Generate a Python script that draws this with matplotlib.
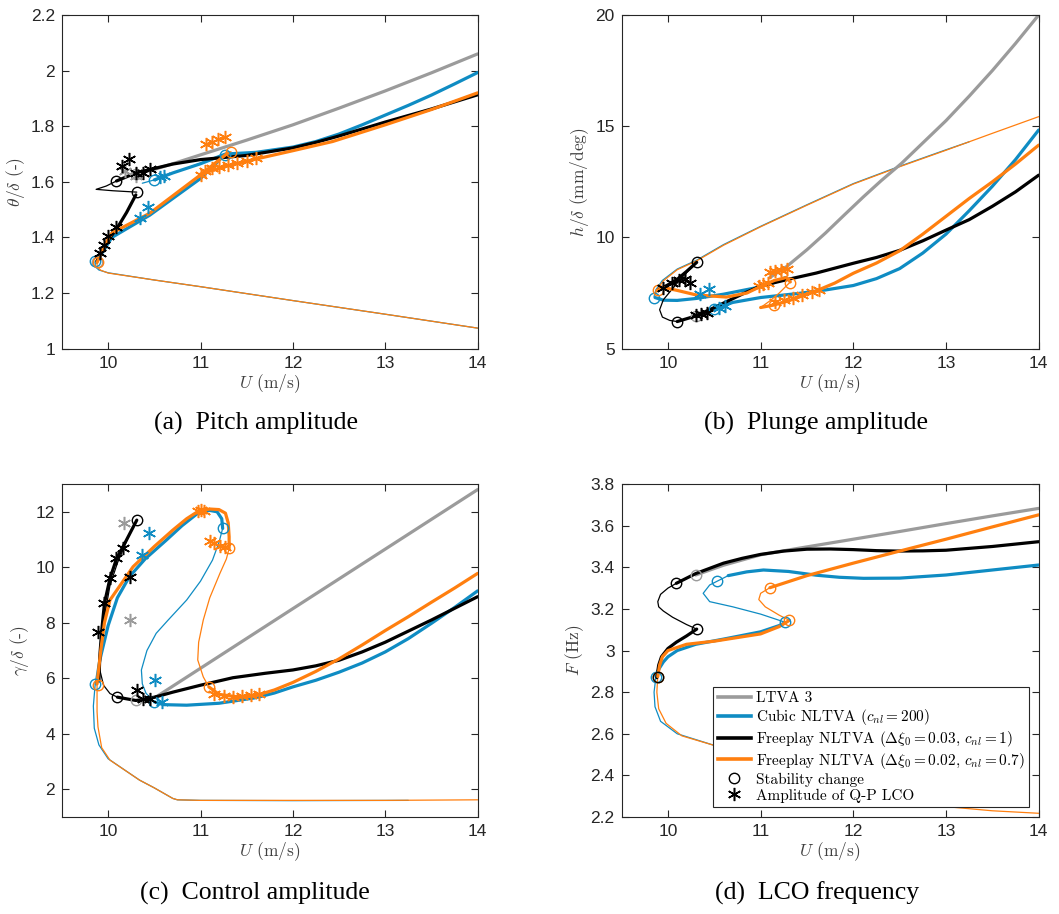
import matplotlib
matplotlib.use('Agg')
import matplotlib.pyplot as plt
from matplotlib.lines import Line2D
from matplotlib.ticker import FuncFormatter

plt.rcParams['mathtext.fontset'] = 'cm'
plt.rcParams['font.family'] = ['Liberation Sans', 'DejaVu Sans']
plt.rcParams['axes.unicode_minus'] = False

GRAY = '#9b9b9b'
BLUE = '#0f8cc3'
BLACK = '#000000'
ORANGE = '#ff7f0f'

U_TICKS = [10, 11, 12, 13, 14]
LEGEND_LABELS = ['LTVA 3', r'Cubic NLTVA ($c_{nl}=200$)',
                 r'Freeplay NLTVA ($\Delta\xi_0=0.03$, $c_{nl}=1$)',
                 r'Freeplay NLTVA ($\Delta\xi_0=0.02$, $c_{nl}=0.7$)',
                 'Stability change', 'Amplitude of Q-P LCO']
CAPTIONS = ['(a)  Pitch amplitude', '(b)  Plunge amplitude',
            '(c)  Control amplitude', '(d)  LCO frequency']

# ---------------- (a) pitch amplitude ----------------
A_LOW_ORANGE = [[(9.88, 1.31), (9.88, 1.295), (9.92, 1.282), (10.0, 1.272), (10.5, 1.247),
                 (11.0, 1.223), (12.0, 1.173), (13.0, 1.124), (14.0, 1.074)]]
A_LOW_BLUE = [[(9.86, 1.315), (9.86, 1.295), (9.9, 1.283), (10.0, 1.273), (10.5, 1.247),
               (11.0, 1.223), (12.0, 1.173), (13.0, 1.124), (14.0, 1.074)]]
A_GRAY_THICK = [[(10.3, 1.627), (10.5, 1.645), (10.7, 1.665), (11.0, 1.697), (11.5, 1.75),
                 (12.0, 1.805), (12.5, 1.865), (13.0, 1.927), (13.5, 1.992), (14.0, 2.06)]]
A_GRAY_CIRC = [(10.3, 1.627), (9.88, 1.31)]
A_GRAY_STAR = [(10.18, 1.64), (10.3, 1.62)]
A_BLACK_THICK = [[(10.09, 1.603), (10.3, 1.632), (10.5, 1.648), (10.7, 1.664), (11.0, 1.68),
                  (11.5, 1.695), (12.0, 1.722), (12.25, 1.742), (12.5, 1.765), (12.75, 1.79),
                  (13.0, 1.815), (13.5, 1.862), (14.0, 1.913)],
                 [(9.88, 1.315), (9.93, 1.35), (10.0, 1.39), (10.1, 1.435), (10.2, 1.49),
                  (10.3, 1.553)]]
A_BLACK_THIN = [[(10.09, 1.603), (9.98, 1.585), (9.87, 1.573), (10.05, 1.568), (10.31, 1.563)]]
A_BLACK_CIRC = [(10.09, 1.603), (10.31, 1.563)]
A_BLACK_STAR = [(9.91, 1.345), (9.95, 1.372), (10.0, 1.405), (10.08, 1.439), (10.155, 1.658),
                (10.23, 1.681), (10.3, 1.631), (10.38, 1.633), (10.45, 1.645)]
A_BLUE_THICK = [[(9.87, 1.31), (9.95, 1.352), (10.04, 1.40), (10.45, 1.48), (11.0, 1.612),
                 (11.26, 1.697)],
                [(10.5, 1.607), (10.7, 1.632), (11.0, 1.665), (11.27, 1.70), (11.6, 1.706),
                 (12.0, 1.725), (12.25, 1.745), (12.5, 1.772), (12.75, 1.805), (13.0, 1.84),
                 (13.25, 1.875), (13.5, 1.912), (13.75, 1.952), (14.0, 1.993)]]
A_BLUE_THIN = [[(10.37, 1.595), (10.5, 1.607)], [(11.27, 1.70), (11.1, 1.68), (10.9, 1.655)]]
A_BLUE_CIRC = [(9.86, 1.315), (10.5, 1.607), (11.26, 1.697)]
A_BLUE_STAR = [(10.35, 1.469), (10.43, 1.509), (10.56, 1.619), (10.6, 1.62)]
A_ORANGE_THICK = [[(9.88, 1.31), (9.96, 1.37), (10.04, 1.416), (10.45, 1.487), (11.0, 1.625),
                   (11.15, 1.665), (11.3, 1.705)],
                  [(11.0, 1.628), (11.3, 1.658), (11.6, 1.682), (12.0, 1.712), (12.43, 1.745),
                   (13.0, 1.805), (13.5, 1.86), (14.0, 1.92)]]
A_ORANGE_THIN = [[(11.33, 1.709), (11.15, 1.665), (11.0, 1.628)]]
A_ORANGE_CIRC = [(9.89, 1.31), (11.33, 1.709)]
A_ORANGE_STAR = [(11.06, 1.737), (11.12, 1.745), (11.19, 1.753), (11.27, 1.762), (11.0, 1.625),
                 (11.05, 1.638), (11.12, 1.648), (11.2, 1.655), (11.3, 1.66), (11.4, 1.668),
                 (11.5, 1.675), (11.6, 1.685)]

# ---------------- (b) plunge amplitude ----------------
B_UP_ORANGE = [[(9.86, 7.4), (9.88, 7.65), (9.95, 8.05), (10.1, 8.55), (10.31, 8.95), (10.6, 9.65),
                (11.0, 10.48), (11.5, 11.45), (12.0, 12.4), (12.5, 13.18), (13.0, 13.92),
                (13.5, 14.68), (14.0, 15.43)]]
B_UP_BLUE = [[(9.85, 7.35), (9.87, 7.65), (9.94, 8.07), (10.1, 8.58), (10.31, 8.98), (10.6, 9.68),
              (11.0, 10.5), (11.5, 11.47), (12.0, 12.42), (12.5, 13.2), (13.0, 13.94),
              (13.25, 14.3)]]
B_GRAY_THICK = [[(11.1, 8.2), (11.28, 8.69), (11.5, 9.45), (11.7, 10.2), (11.9, 11.0),
                 (12.11, 11.83), (12.3, 12.55), (12.52, 13.33), (12.75, 14.25), (13.0, 15.25),
                 (13.25, 16.35), (13.5, 17.5), (13.75, 18.72), (14.0, 20.0)]]
B_GRAY_CIRC = [(10.3, 6.45)]
B_BLACK_THICK = [[(9.9, 7.65), (10.0, 7.87), (10.1, 8.12), (10.2, 8.47), (10.31, 8.88)],
                 [(10.1, 6.22), (10.3, 6.47), (10.5, 6.85), (10.8, 7.45), (11.0, 7.82),
                  (11.3, 8.12), (11.6, 8.4), (12.0, 8.84), (12.25, 9.1), (12.5, 9.42),
                  (12.75, 9.85), (13.0, 10.33), (13.25, 10.8), (13.5, 11.4), (13.75, 12.05),
                  (14.0, 12.8)]]
B_BLACK_THIN = [[(10.31, 8.88), (10.15, 8.2), (10.02, 7.55), (9.95, 7.2), (9.91, 6.75),
                 (9.94, 6.42), (10.02, 6.27), (10.1, 6.22)]]
B_BLACK_CIRC = [(10.31, 8.88), (10.1, 6.22)]
B_BLACK_STAR = [(9.95, 7.75), (10.04, 7.95), (10.12, 8.1), (10.18, 8.15), (10.24, 7.95),
                (10.3, 6.5), (10.36, 6.55), (10.42, 6.62)]
B_BLUE_THICK = [[(9.86, 7.3), (9.95, 7.18), (10.1, 7.17), (10.31, 7.26), (10.6, 7.45),
                 (11.0, 7.78), (11.15, 7.98), (11.27, 8.2)],
                [(10.5, 6.8), (10.7, 7.08), (11.0, 7.3), (11.4, 7.48), (11.7, 7.64),
                 (12.0, 7.84), (12.25, 8.15), (12.5, 8.6), (12.75, 9.3), (13.0, 10.15),
                 (13.25, 11.2), (13.5, 12.3), (13.75, 13.5), (14.0, 14.83)]]
B_BLUE_THIN = [[(11.27, 8.2), (11.2, 8.05), (11.05, 7.92)],
               [(10.5, 6.8), (10.42, 6.65), (10.35, 6.58)]]
B_BLUE_CIRC = [(9.85, 7.3), (10.5, 6.78)]
B_BLUE_STAR = [(10.35, 7.45), (10.44, 7.7), (10.55, 6.85), (10.62, 6.92)]
B_ORANGE_THICK = [[(9.88, 7.6), (9.95, 7.75), (10.1, 7.62), (10.3, 7.42), (10.63, 7.32),
                   (10.85, 7.5), (11.0, 7.8), (11.15, 8.07), (11.28, 8.2), (11.32, 8.0)],
                  [(11.0, 6.85), (11.14, 6.96), (11.3, 7.15), (11.6, 7.6), (11.8, 7.95),
                   (12.0, 8.39), (12.25, 8.85), (12.5, 9.4), (12.75, 10.15), (13.0, 10.95),
                   (13.25, 11.75), (13.5, 12.5), (13.75, 13.3), (14.0, 14.15)]]
B_ORANGE_THIN = [[(11.32, 8.0), (11.2, 7.5), (11.1, 7.15), (11.0, 6.85)]]
B_ORANGE_CIRC = [(9.89, 7.62), (11.32, 7.95), (11.14, 6.96)]
B_ORANGE_STAR = [(11.1, 8.45), (11.16, 8.5), (11.22, 8.55), (11.28, 8.6), (10.98, 7.8),
                 (11.03, 7.9), (11.08, 7.95), (11.15, 7.1), (11.25, 7.2), (11.35, 7.3),
                 (11.45, 7.4), (11.55, 7.55), (11.63, 7.65)]

# ---------------- (c) control amplitude ----------------
C_LOW_ORANGE = [[(9.88, 5.8), (9.88, 4.8), (9.89, 4.25), (9.93, 3.5), (10.02, 3.05),
                 (10.34, 2.33), (10.5, 2.05), (10.7, 1.67), (10.75, 1.62), (11.0, 1.6),
                 (12.0, 1.6), (13.0, 1.6), (14.0, 1.62)]]
C_LOW_BLUE = [[(9.86, 5.8), (9.84, 5.0), (9.85, 4.2), (9.9, 3.6), (10.0, 3.1), (10.34, 2.33),
               (10.5, 2.05), (10.7, 1.67), (10.75, 1.62), (11.0, 1.6), (12.0, 1.59),
               (13.25, 1.6)]]
C_GRAY_THICK = [[(10.45, 5.3), (10.52, 5.33), (12.0, 8.51), (13.0, 10.655), (14.0, 12.8)]]
C_GRAY_CIRC = [(10.3, 5.2)]
C_GRAY_STAR = [(10.17, 11.6), (10.24, 8.1)]
C_BLACK_THICK = [[(9.9, 5.9), (9.91, 6.8), (9.93, 7.7), (9.96, 8.7), (10.02, 9.6), (10.09, 10.3),
                  (10.17, 10.8), (10.31, 11.7)],
                 [(10.1, 5.32), (10.3, 5.2), (10.45, 5.27), (10.7, 5.5), (11.0, 5.75),
                  (11.35, 6.02), (11.7, 6.18), (12.0, 6.3), (12.25, 6.45), (12.5, 6.65),
                  (12.75, 6.95), (13.0, 7.3), (13.25, 7.7), (13.5, 8.1), (13.75, 8.52),
                  (14.0, 8.94)]]
C_BLACK_THIN = [[(10.31, 11.7), (10.2, 10.95), (10.1, 10.15), (10.02, 9.35), (9.97, 8.4),
                 (9.93, 7.3), (9.91, 6.3), (9.95, 5.75), (10.02, 5.45), (10.1, 5.32)]]
C_BLACK_CIRC = [(10.31, 11.7), (10.1, 5.32)]
C_BLACK_STAR = [(9.89, 7.68), (9.95, 8.7), (10.02, 9.6), (10.09, 10.32), (10.16, 10.68),
                (10.24, 9.66), (10.31, 5.57), (10.38, 5.24), (10.45, 5.26)]
C_BLUE_THICK = [[(9.87, 5.8), (9.91, 6.66), (10.0, 7.9), (10.1, 8.9), (10.23, 9.66), (10.4, 10.3),
                 (10.63, 10.98), (10.8, 11.5), (10.99, 12.0), (11.1, 12.05), (11.18, 12.0),
                 (11.23, 11.75), (11.24, 11.4)],
                [(10.5, 5.15), (10.6, 5.05), (10.85, 5.03), (11.2, 5.1), (11.6, 5.3),
                 (11.8, 5.47), (12.0, 5.69), (12.25, 5.93), (12.5, 6.22), (12.75, 6.55),
                 (13.0, 6.95), (13.25, 7.43), (13.5, 7.98), (13.75, 8.55), (14.0, 9.15)]]
C_BLUE_THIN = [[(11.24, 11.4), (11.2, 10.9), (11.13, 10.26), (11.0, 9.5), (10.85, 8.82),
                (10.65, 8.1), (10.52, 7.62), (10.42, 7.0), (10.36, 6.3), (10.37, 5.8),
                (10.41, 5.46), (10.5, 5.15)]]
C_BLUE_CIRC = [(9.86, 5.8), (11.24, 11.4), (10.5, 5.15)]
C_BLUE_STAR = [(10.44, 11.22), (10.37, 10.45), (10.51, 5.95), (10.58, 5.15)]
C_ORANGE_THICK = [[(9.88, 5.8), (9.92, 7.0), (9.96, 8.0), (10.02, 8.82), (10.27, 10.02),
                   (10.5, 10.75), (10.7, 11.34), (10.85, 11.75), (10.99, 12.05), (11.1, 12.1),
                   (11.2, 12.08), (11.27, 11.95), (11.3, 11.6), (11.31, 11.1), (11.31, 10.68)],
                  [(11.09, 5.69), (11.2, 5.42), (11.4, 5.33), (11.6, 5.38), (11.8, 5.58),
                   (12.0, 5.85), (12.25, 6.25), (12.5, 6.7), (12.75, 7.2), (13.0, 7.72),
                   (13.25, 8.22), (13.5, 8.74), (13.75, 9.25), (14.0, 9.78)]]
C_ORANGE_THIN = [[(11.31, 10.68), (11.28, 10.3), (11.21, 9.78), (11.1, 8.9), (11.03, 8.1),
                  (10.98, 7.3), (10.97, 6.66), (11.03, 6.05), (11.09, 5.69)]]
C_ORANGE_CIRC = [(9.89, 5.75), (11.31, 10.68), (11.09, 5.69)]
C_ORANGE_STAR = [(10.97, 12.02), (11.0, 12.06), (11.04, 12.04), (11.1, 10.95), (11.15, 10.87),
                 (11.21, 10.78), (11.27, 10.72), (11.15, 5.45), (11.25, 5.36), (11.35, 5.34),
                 (11.45, 5.35), (11.55, 5.38), (11.63, 5.42)]

# ---------------- (d) LCO frequency ----------------
D_LOW_ORANGE = [[(9.89, 2.875), (9.88, 2.8), (9.9, 2.72), (9.98, 2.65), (10.15, 2.59),
                 (10.53, 2.54), (11.0, 2.47), (11.5, 2.41), (12.0, 2.35), (12.5, 2.29),
                 (13.0, 2.25), (13.5, 2.23), (14.0, 2.218)]]
D_LOW_BLUE = [[(9.87, 2.875), (9.85, 2.8), (9.86, 2.73), (9.92, 2.66), (10.1, 2.6),
               (10.53, 2.54), (11.0, 2.47)]]
D_GRAY_THICK = [[(10.3, 3.363), (10.6, 3.41), (11.0, 3.46), (11.39, 3.49), (12.0, 3.535),
                 (12.5, 3.572), (13.0, 3.61), (13.5, 3.647), (14.0, 3.683)]]
D_GRAY_CIRC = [(10.3, 3.363)]
D_BLACK_THICK = [[(9.88, 2.87), (9.9, 2.93), (9.93, 2.97), (10.0, 3.01), (10.09, 3.04),
                  (10.2, 3.07), (10.31, 3.103)],
                 [(10.09, 3.323), (10.3, 3.37), (10.45, 3.395), (10.6, 3.42), (10.8, 3.443),
                  (11.0, 3.462), (11.25, 3.478), (11.5, 3.487), (11.75, 3.488), (12.0, 3.485),
                  (12.25, 3.48), (12.47, 3.478), (12.75, 3.479), (13.0, 3.482), (13.5, 3.5),
                  (14.0, 3.523)]]
D_BLACK_THIN = [[(10.31, 3.103), (10.2, 3.125), (10.05, 3.16), (9.95, 3.19), (9.9, 3.21),
                 (9.89, 3.235), (9.92, 3.27), (10.0, 3.3), (10.09, 3.323)]]
D_BLACK_CIRC = [(10.09, 3.323), (10.31, 3.103), (9.89, 2.875)]
D_BLUE_THICK = [[(9.87, 2.875), (9.9, 2.91), (9.95, 2.945), (10.0, 2.97), (10.1, 3.0),
                 (10.3, 3.03), (10.6, 3.055), (11.0, 3.09), (11.2, 3.12), (11.27, 3.135)],
                [(10.65, 3.36), (10.85, 3.378), (11.03, 3.387), (11.3, 3.38), (11.6, 3.362),
                 (11.85, 3.352), (12.11, 3.347), (12.5, 3.348), (13.0, 3.363), (13.5, 3.387),
                 (14.0, 3.411)]]
D_BLUE_THIN = [[(11.27, 3.135), (11.0, 3.175), (10.7, 3.21), (10.45, 3.235), (10.38, 3.275),
                (10.45, 3.315), (10.53, 3.333), (10.65, 3.36)]]
D_BLUE_CIRC = [(9.87, 2.875), (11.26, 3.135), (10.53, 3.333)]
D_ORANGE_THICK = [[(9.89, 2.875), (9.91, 2.93), (9.94, 2.97), (10.0, 3.0), (10.2, 3.03),
                   (10.5, 3.045), (11.0, 3.08), (11.2, 3.115), (11.31, 3.145)],
                  [(11.1, 3.302), (11.5, 3.36), (12.0, 3.42), (12.5, 3.478), (13.0, 3.535),
                   (13.5, 3.594), (14.0, 3.652)]]
D_ORANGE_THIN = [[(11.31, 3.145), (11.2, 3.17), (11.05, 3.21), (10.98, 3.245), (11.0, 3.275),
                  (11.1, 3.302)]]
D_ORANGE_CIRC = [(9.89, 2.875), (11.31, 3.145), (11.1, 3.302)]

THICK = 2.3
THIN = 0.9
STAR = (6, 2, 0)


def lines(ax, segs, color, lw, z):
    for pts in segs:
        u = [p[0] for p in pts]
        v = [p[1] for p in pts]
        ax.plot(u, v, color=color, lw=lw, zorder=z, solid_capstyle='round',
                solid_joinstyle='round')


def marks(ax, pts, color, kind, z=8):
    if not pts:
        return
    u = [p[0] for p in pts]
    v = [p[1] for p in pts]
    if kind == 'o':
        ax.plot(u, v, ls='none', marker='o', ms=7.5, mfc='none', mec=color, mew=1.0, zorder=z)
    else:
        ax.plot(u, v, ls='none', marker=STAR, ms=9.5, mec=color, mew=1.1, zorder=z)


def style(ax, ylim, yticks, ylabel):
    ax.set_xlim(9.5, 14)
    ax.set_ylim(*ylim)
    ax.set_xticks(U_TICKS)
    ax.set_yticks(yticks)
    ax.yaxis.set_major_formatter(FuncFormatter(lambda v, p: '%g' % round(v, 3)))
    ax.tick_params(direction='in', top=True, right=True, length=5, width=0.8,
                   colors='#262626', labelsize=12.5, pad=5)
    for s in ax.spines.values():
        s.set_color('#262626')
        s.set_linewidth(0.8)
    ax.set_xlabel(r'$U$ (m/s)', family='cmr10', fontsize=12.5, color='#404040', labelpad=1)
    ax.set_ylabel(ylabel, family='cmr10', fontsize=12.5, color='#404040', labelpad=3)


fig = plt.figure(figsize=(10.59, 9.14), dpi=100)
axA = fig.add_axes([0.0585, 0.6185, 0.3925, 0.3651])
axB = fig.add_axes([0.587, 0.6185, 0.3938, 0.3651])
axC = fig.add_axes([0.0585, 0.1061, 0.3925, 0.3643])
axD = fig.add_axes([0.587, 0.1061, 0.3938, 0.3643])

panels = [
    (axA, dict(low=[(A_LOW_BLUE, BLUE), (A_LOW_ORANGE, ORANGE)],
               gray=A_GRAY_THICK, gray_c=A_GRAY_CIRC, gray_s=A_GRAY_STAR,
               blue=A_BLUE_THICK, blue_t=A_BLUE_THIN, blue_c=A_BLUE_CIRC, blue_s=A_BLUE_STAR,
               black=A_BLACK_THICK, black_t=A_BLACK_THIN, black_c=A_BLACK_CIRC, black_s=A_BLACK_STAR,
               orange=A_ORANGE_THICK, orange_t=A_ORANGE_THIN, orange_c=A_ORANGE_CIRC,
               orange_s=A_ORANGE_STAR)),
    (axB, dict(low=[(B_UP_BLUE, BLUE), (B_UP_ORANGE, ORANGE)],
               gray=B_GRAY_THICK, gray_c=B_GRAY_CIRC, gray_s=[],
               blue=B_BLUE_THICK, blue_t=B_BLUE_THIN, blue_c=B_BLUE_CIRC, blue_s=B_BLUE_STAR,
               black=B_BLACK_THICK, black_t=B_BLACK_THIN, black_c=B_BLACK_CIRC, black_s=B_BLACK_STAR,
               orange=B_ORANGE_THICK, orange_t=B_ORANGE_THIN, orange_c=B_ORANGE_CIRC,
               orange_s=B_ORANGE_STAR)),
    (axC, dict(low=[(C_LOW_BLUE, BLUE), (C_LOW_ORANGE, ORANGE)],
               gray=C_GRAY_THICK, gray_c=C_GRAY_CIRC, gray_s=C_GRAY_STAR,
               blue=C_BLUE_THICK, blue_t=C_BLUE_THIN, blue_c=C_BLUE_CIRC, blue_s=C_BLUE_STAR,
               black=C_BLACK_THICK, black_t=C_BLACK_THIN, black_c=C_BLACK_CIRC, black_s=C_BLACK_STAR,
               orange=C_ORANGE_THICK, orange_t=C_ORANGE_THIN, orange_c=C_ORANGE_CIRC,
               orange_s=C_ORANGE_STAR)),
    (axD, dict(low=[(D_LOW_BLUE, BLUE), (D_LOW_ORANGE, ORANGE)],
               gray=D_GRAY_THICK, gray_c=D_GRAY_CIRC, gray_s=[],
               blue=D_BLUE_THICK, blue_t=D_BLUE_THIN, blue_c=D_BLUE_CIRC, blue_s=[],
               black=D_BLACK_THICK, black_t=D_BLACK_THIN, black_c=D_BLACK_CIRC, black_s=[],
               orange=D_ORANGE_THICK, orange_t=D_ORANGE_THIN, orange_c=D_ORANGE_CIRC,
               orange_s=[])),
]

for ax, d in panels:
    for segs, col in d['low']:
        lines(ax, segs, col, THIN, 2)
    lines(ax, d['gray'], GRAY, THICK, 2)
    lines(ax, d['blue'], BLUE, THICK, 3)
    lines(ax, d['blue_t'], BLUE, THIN, 3)
    lines(ax, d['black'], BLACK, THICK, 4)
    lines(ax, d['black_t'], BLACK, THIN, 4)
    lines(ax, d['orange'], ORANGE, THICK, 5)
    lines(ax, d['orange_t'], ORANGE, THIN, 5)
    marks(ax, d['gray_c'], GRAY, 'o')
    marks(ax, d['gray_s'], GRAY, '*')
    marks(ax, d['blue_c'], BLUE, 'o')
    marks(ax, d['blue_s'], BLUE, '*')
    marks(ax, d['orange_c'], ORANGE, 'o')
    marks(ax, d['orange_s'], ORANGE, '*')
    marks(ax, d['black_c'], BLACK, 'o')
    marks(ax, d['black_s'], BLACK, '*')

style(axA, (1, 2.2), [1, 1.2, 1.4, 1.6, 1.8, 2, 2.2], r'$\theta/\delta$ (-)')
style(axB, (5, 20), [5, 10, 15, 20], r'$h/\delta$ (mm/deg)')
style(axC, (1, 13), [2, 4, 6, 8, 10, 12], r'$\gamma/\delta$ (-)')
style(axD, (2.2, 3.8), [2.2, 2.4, 2.6, 2.8, 3, 3.2, 3.4, 3.6, 3.8], r'$F$ (Hz)')

handles = [Line2D([], [], color=GRAY, lw=2.6),
           Line2D([], [], color=BLUE, lw=2.6),
           Line2D([], [], color=BLACK, lw=2.6),
           Line2D([], [], color=ORANGE, lw=2.6),
           Line2D([], [], ls='none', marker='o', ms=7.5, mfc='none', mec='k', mew=1.0),
           Line2D([], [], ls='none', marker=STAR, ms=9.5, mec='k', mew=1.1)]
leg = axD.legend(handles, LEGEND_LABELS, loc='lower right', bbox_to_anchor=(0.977, 0.029),
                 borderaxespad=0, prop={'family': 'cmr10', 'size': 11}, frameon=True,
                 fancybox=False, framealpha=1, edgecolor='#262626', handlelength=2.2,
                 handletextpad=0.3, labelspacing=0.12, borderpad=0.3)
leg.get_frame().set_linewidth(0.8)
leg.set_zorder(20)

cap_pos = [(0.2417, 0.537), (0.7705, 0.537), (0.2408, 0.023), (0.7715, 0.023)]
for (x, y), t in zip(cap_pos, CAPTIONS):
    fig.text(x, y, t, ha='center', va='center', family='Liberation Serif', fontsize=18.5)

fig.savefig('out.png', dpi=100)
